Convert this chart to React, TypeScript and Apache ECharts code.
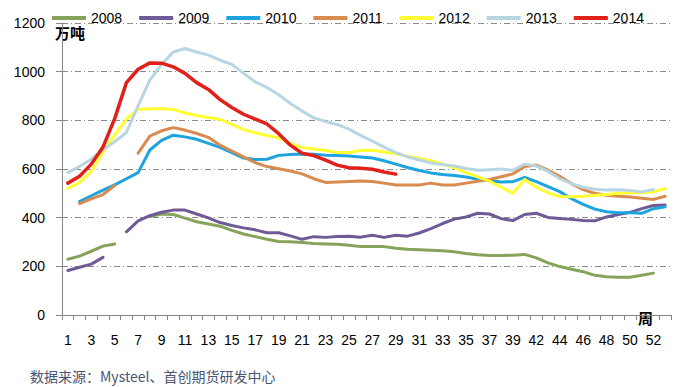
import React, { useEffect, useRef } from "react";
import * as echarts from "echarts";

const weeks: string[] = [
  "1","2","3","4","5","6","7","8","9","10","11","12","13","14","15","16","17","18","19","20",
  "21","22","23","24","25","26","27","28","29","30","31","32","33","34","35","36","37","38","39","40",
  "42","43","44","45","46","47","48","49","50","51","52","53",
];

const s2008: (number | null)[] = [
  229, 242, 262, 283, 292, null, null, 405, 415, 413, 398, 383, 374, 365, 348, 333, 322, 311, 302, 301,
  298, 294, 292, 291, 287, 281, 281, 281, 274, 270, 268, 266, 264, 260, 253, 248, 245, 245, 246, 249,
  235, 214, 199, 188, 178, 163, 157, 155, 155, 163, 172, null,
];
const s2009: (number | null)[] = [
  183, 196, 209, 237, null, 342, 387, 408, 422, 431, 431, 415, 399, 380, 368, 358, 350, 338, 338, 325,
  311, 322, 319, 323, 324, 320, 328, 319, 328, 324, 337, 355, 376, 394, 403, 418, 415, 396, 388, 413,
  418, 401, 397, 393, 388, 387, 403, 413, 422, 437, 450, 452,
];
const s2010: (number | null)[] = [
  null, 466, 490, 513, 535, 560, 585, 678, 718, 739, 732, 722, 705, 689, 667, 645, 639, 640, 656, 660,
  662, 661, 657, 655, 653, 649, 645, 634, 620, 606, 594, 584, 577, 573, 567, 558, 553, 547, 548, 565,
  548, 528, 507, 478, 455, 435, 424, 420, 420, 418, 437, 445,
];
const s2011: (number | null)[] = [
  null, 458, 477, 495, 532, null, 665, 735, 757, 770, 760, 746, 730, 698, 674, 650, 626, 610, 601, 592,
  580, 560, 545, 547, 549, 551, 549, 542, 534, 534, 534, 542, 534, 534, 542, 550, 557, 568, 580, 610,
  616, 595, 570, 540, 515, 500, 492, 488, 485, 480, 475, 488,
];
const s2012: (number | null)[] = [
  520, 545, 590, 670, 740, 805, 845, 848, 848, 845, 830, 820, 812, 804, 783, 762, 749, 738, 728, 705,
  688, 682, 676, 668, 668, 676, 677, 670, 663, 653, 643, 634, 620, 605, 585, 568, 550, 525, 500, 557,
  525, 502, 487, 486, 488, 492, 495, 500, 502, 502, 506, 520,
];
const s2013: (number | null)[] = [
  585, 610, 640, 680, 712, 750, 860, 965, 1030, 1081, 1095, 1081, 1068, 1047, 1030, 993, 958, 935, 905, 869,
  838, 810, 795, 783, 764, 738, 715, 690, 667, 650, 637, 625, 618, 612, 602, 595, 597, 600, 595, 620,
  612, 590, 560, 540, 525, 517, 514, 515, 512, 506, 516, null,
];
const s2014: (number | null)[] = [
  542, 570, 620, 690, 807, 955, 1010, 1036, 1035, 1020, 993, 955, 927, 885, 853, 825, 805, 785, 745, 698,
  665, 655, 636, 616, 605, 603, 599, 588, 579,
];

const seriesNames = ["2008", "2009", "2010", "2011", "2012", "2013", "2014"];
const seriesData = [s2008, s2009, s2010, s2011, s2012, s2013, s2014];
const colors = ["#86A35A", "#6E5A96", "#1DA3DD", "#D98B4F", "#FFFF33", "#B7D6E2", "#E0201B"];

export default function App() {
  const ref = useRef<HTMLDivElement>(null);
  useEffect(() => {
    if (!ref.current) return;
    const chart = echarts.init(ref.current, null, { renderer: "svg" });
    const font = "'Liberation Sans', 'Noto Sans CJK SC', sans-serif";
    chart.setOption({
      animation: false,
      backgroundColor: "#ffffff",
      textStyle: { fontFamily: font },
      color: colors,
      grid: { left: 62, right: 5, top: 23, bottom: 72, containLabel: false },
      legend: {
        left: 47,
        top: 6,
        icon: "rect",
        itemWidth: 34,
        itemHeight: 4,
        itemGap: 17,
        textStyle: { fontSize: 14, color: "#000", fontFamily: font },
        data: seriesNames,
      },
      xAxis: {
        type: "category",
        data: weeks,
        boundaryGap: true,
        axisLine: { lineStyle: { color: "#868686", width: 1 } },
        axisTick: { show: true, length: 5, interval: 0, lineStyle: { color: "#868686" } },
        axisLabel: { interval: 1, fontSize: 14, color: "#000", margin: 18, fontFamily: font },
      },
      yAxis: {
        type: "value",
        min: 0,
        max: 1200,
        interval: 200,
        axisLine: { show: true, lineStyle: { color: "#868686", width: 1 } },
        axisTick: { show: true, length: 6, lineStyle: { color: "#868686" } },
        axisLabel: {
          fontSize: 14,
          color: "#000",
          margin: 17,
          fontFamily: font,
          formatter: (v: number) => String(v),
        },
        splitLine: { lineStyle: { color: "#8a8a8a", type: [6, 3, 1, 3], width: 1 } },
      },
      graphic: [
        {
          type: "text",
          left: 55,
          top: 25,
          style: { text: "万吨", fontSize: 15, fontWeight: "bold", fill: "#000", fontFamily: "'Noto Sans CJK SC', sans-serif" },
        },
        {
          type: "text",
          left: 638,
          top: 310,
          style: { text: "周", fontSize: 15, fontWeight: "bold", fill: "#000", fontFamily: "'Noto Sans CJK SC', sans-serif" },
        },
        {
          type: "text",
          left: 30,
          top: 369,
          style: { text: "数据来源：Mysteel、首创期货研发中心", fontSize: 14, fill: "#4A5570", fontFamily: "'Noto Sans CJK SC', sans-serif" },
        },
      ],
      series: seriesNames.map((name, i) => ({
        name,
        type: "line",
        data: seriesData[i],
        showSymbol: false,
        symbol: "none",
        connectNulls: false,
        smooth: false,
        lineStyle: { width: i === 6 ? 3.5 : 3, color: colors[i], join: "round", cap: "round" },
        itemStyle: { color: colors[i] },
        z: 2 + i,
      })),
    });
    return () => chart.dispose();
  }, []);
  return (
    <div
      ref={ref}
      style={{ position: "fixed", left: 0, top: 0, width: 676, height: 387, background: "#fff" }}
    />
  );
}
